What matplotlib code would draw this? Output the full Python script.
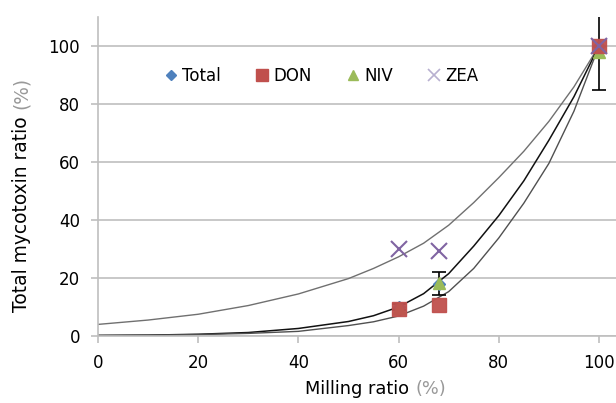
import matplotlib
matplotlib.use("Agg")
import matplotlib.pyplot as plt
from matplotlib.lines import Line2D

# measured points
mill = [60, 68, 100]
total = [10, 18, 100]
total_err = [1.0, 4.0, 15.0]
don = [9.2, 10.7, 100]
niv = [9.5, 18.4, 98]
zea = [30.0, 29.4, 100]

# trend curves
curve_x = [0, 10, 20, 30, 40, 50, 55, 60, 65, 70, 75, 80, 85, 90, 95, 100]
curve_zea = [4.0, 5.5, 7.5, 10.5, 14.5, 19.8, 23.3, 27.3, 32.0, 38.2, 46.0, 54.6, 63.7, 74.0, 85.9, 100]
curve_total = [0.2, 0.3, 0.6, 1.2, 2.6, 5.0, 7.0, 10.0, 14.6, 21.5, 31.0, 41.5, 53.5, 67.5, 82.5, 100]
curve_don = [0.2, 0.3, 0.5, 0.9, 1.6, 3.6, 4.9, 6.9, 10.3, 15.3, 23.3, 33.8, 45.8, 59.5, 77.5, 100]

GRID = "#bfbfbf"
C_TOT, C_DON, C_NIV, C_ZEA = "#4F81BD", "#C0504D", "#9BBB59", "#8064A2"

fig = plt.figure(figsize=(6.16, 4.03), dpi=100)
ax = fig.add_axes([98 / 616, 1 - 336 / 403, 1 - 98 / 616, 319 / 403])

ax.plot(curve_x, curve_zea, color="#707070", lw=1.0, zorder=2)
ax.plot(curve_x, curve_total, color="#111111", lw=1.1, zorder=2)
ax.plot(curve_x, curve_don, color="#505050", lw=1.0, zorder=2)

ax.errorbar(mill, total, yerr=total_err, fmt="D", color=C_TOT, ms=6,
            ecolor="black", elinewidth=1.2, capsize=5, capthick=1.2, zorder=3)
ax.plot(mill, niv, "^", color=C_NIV, ms=9, zorder=4)
ax.plot(mill, don, "s", color=C_DON, ms=10, zorder=5, alpha=0.95)
ax.plot(mill, zea, "x", color=C_ZEA, ms=11, mew=1.5, zorder=5)

ax.set_xlim(0, 103.4)
ax.set_ylim(0, 110)
ax.set_xticks([0, 20, 40, 60, 80, 100])
ax.set_yticks([0, 20, 40, 60, 80, 100])
ax.yaxis.grid(True, color=GRID, lw=1.2)
ax.set_axisbelow(True)
for s in ["top", "right"]:
    ax.spines[s].set_visible(False)
for s in ["left", "bottom"]:
    ax.spines[s].set_color(GRID)
    ax.spines[s].set_linewidth(1.2)
ax.tick_params(direction="out", length=5, color=GRID, labelsize=12, pad=8, width=1.2)

# labels with grey units
ax.text(0.400, -0.165, "Milling ratio", transform=ax.transAxes, fontsize=12.8, ha="left", va="center")
ax.text(0.613, -0.165, "(%)", transform=ax.transAxes, fontsize=12.8, ha="left", va="center", color="#999999")
ax.text(-0.147, 0.075, "Total mycotoxin ratio", transform=ax.transAxes, fontsize=13.4,
        rotation=90, ha="center", va="bottom")
ax.text(-0.147, 0.712, "(%)", transform=ax.transAxes, fontsize=13.4,
        rotation=90, ha="center", va="bottom", color="#999999")

handles = [
    Line2D([], [], ls="", marker="D", color=C_TOT, ms=5),
    Line2D([], [], ls="", marker="s", color=C_DON, ms=8),
    Line2D([], [], ls="", marker="^", color=C_NIV, ms=7),
    Line2D([], [], ls="", marker="x", color="#b8b0d0", ms=8, mew=1.2),
]
ax.legend(handles, ["Total", "DON", "NIV", "ZEA"], loc="center left", bbox_to_anchor=(0.112, 0.815),
          ncol=4, frameon=False, fontsize=12, borderpad=0, handlelength=0.8, handletextpad=0.25,
          columnspacing=2.1)

fig.savefig("out.png", dpi=100)
